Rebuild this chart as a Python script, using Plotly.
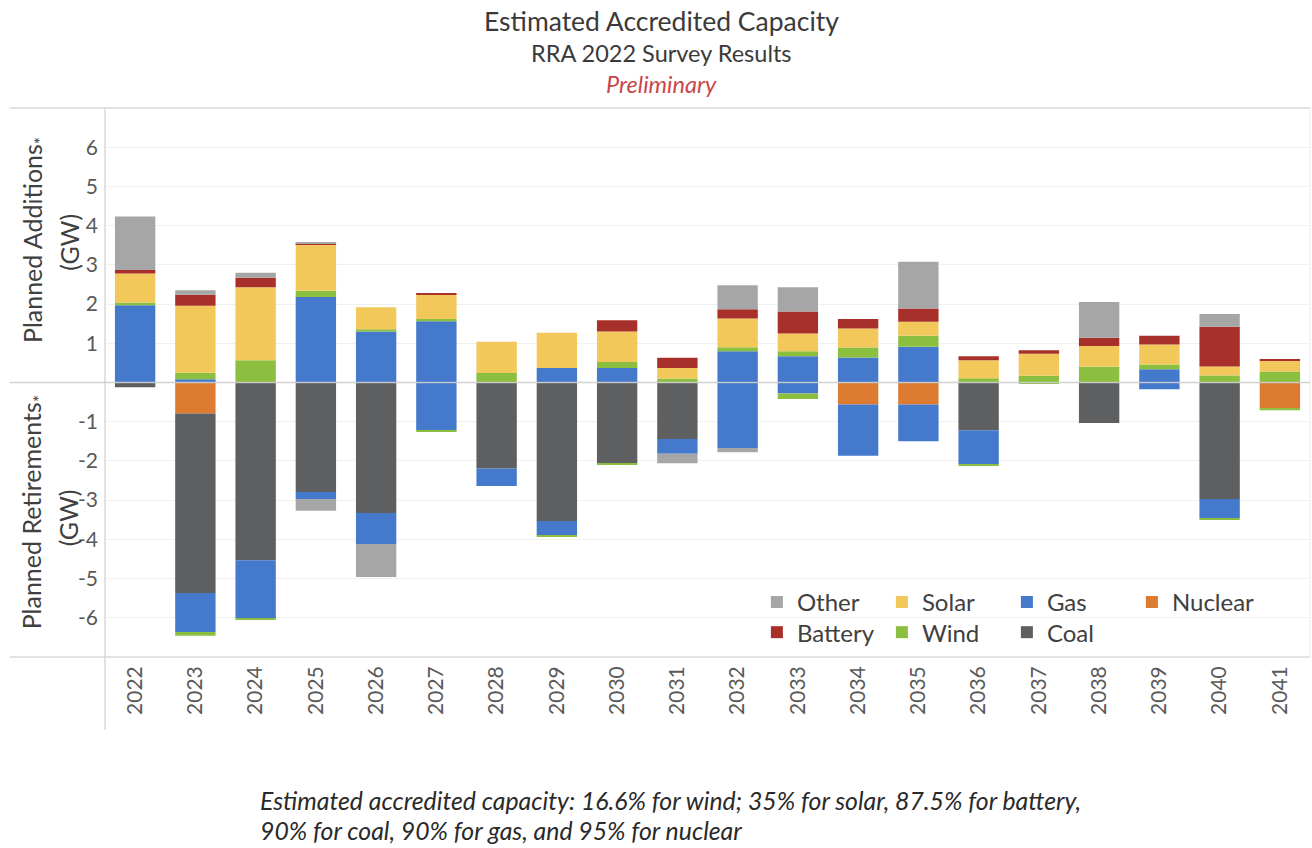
import plotly.graph_objects as go

years = [str(y) for y in range(2022, 2042)]

# planned additions (GW, accredited)
gas_add = [1.97, 0.08, 0, 2.18, 1.30, 1.56, 0, 0.37, 0.37, 0, 0.80, 0.67, 0.64, 0.91, 0, 0, 0, 0.34, 0, 0]
wind_add = [0.07, 0.17, 0.57, 0.16, 0.06, 0.06, 0.24, 0, 0.15, 0.10, 0.10, 0.13, 0.25, 0.28, 0.11, 0.17, 0.40, 0.12, 0.18, 0.28]
solar_add = [0.74, 1.71, 1.86, 1.19, 0.56, 0.62, 0.80, 0.90, 0.78, 0.27, 0.73, 0.45, 0.49, 0.36, 0.46, 0.56, 0.53, 0.51, 0.23, 0.28]
battery_add = [0.09, 0.28, 0.24, 0.02, 0, 0.03, 0, 0, 0.29, 0.26, 0.24, 0.56, 0.24, 0.34, 0.10, 0.09, 0.21, 0.22, 1.01, 0.02]
other_add = [1.36, 0.11, 0.13, 0.02, 0, 0, 0, 0, 0, 0, 0.61, 0.62, 0, 1.19, 0, 0, 0.91, 0, 0.33, 0]

# planned retirements (GW, accredited)
nuclear_ret = [0, -0.79, 0, 0, 0, 0, 0, 0, 0, 0, 0, 0, -0.56, -0.56, 0, 0, 0, 0, 0, -0.66]
coal_ret = [-0.12, -4.58, -4.53, -2.79, -3.33, 0, -2.19, -3.53, -2.06, -1.44, 0, 0, 0, 0, -1.22, 0, -1.03, 0, -2.97, 0]
gas_ret = [0, -0.99, -1.48, -0.18, -0.79, -1.22, -0.45, -0.38, 0, -0.38, -1.67, -0.28, -1.31, -0.94, -0.86, 0, 0, -0.17, -0.49, 0]
wind_ret = [0, -0.10, -0.03, 0, 0, -0.02, 0, -0.03, -0.03, 0, 0, -0.14, 0, 0, -0.03, -0.03, 0, 0, -0.03, -0.05]
other_ret = [0, 0, 0, -0.30, -0.84, 0, 0, 0, 0, -0.24, -0.11, 0, 0, 0, 0, 0, 0, 0, 0, 0]

colors = {
    'Other': '#A6A6A6',
    'Solar': '#F2C85B',
    'Gas': '#4479CC',
    'Nuclear': '#DD7B30',
    'Battery': '#A8302A',
    'Wind': '#8CBF3F',
    'Coal': '#5E5F61',
}
# legend placement: row 1 / row 2, like the original
legend_of = {'Other': 'legend', 'Solar': 'legend', 'Gas': 'legend', 'Nuclear': 'legend',
             'Battery': 'legend2', 'Wind': 'legend2', 'Coal': 'legend2'}
rank = {'Other': 1, 'Solar': 2, 'Gas': 3, 'Nuclear': 4, 'Battery': 1, 'Wind': 2, 'Coal': 3}

FONT = 'Lato, "Open Sans", sans-serif'

fig = go.Figure()


def add_bar(name, values, show):
    fig.add_trace(go.Bar(
        x=years, y=values, name=name,
        marker=dict(color=colors[name], line=dict(width=0)),
        legendgroup=name, showlegend=show,
        legend=legend_of[name], legendrank=rank[name],
    ))


# retirements stack downward from zero
add_bar('Nuclear', nuclear_ret, True)
add_bar('Coal', coal_ret, True)
add_bar('Gas', gas_ret, False)
add_bar('Wind', wind_ret, False)
add_bar('Other', other_ret, False)
# additions stack upward
add_bar('Gas', gas_add, True)
add_bar('Wind', wind_add, True)
add_bar('Solar', solar_add, True)
add_bar('Battery', battery_add, True)
add_bar('Other', other_add, True)

tick_vals = [-6, -5, -4, -3, -2, -1, 1, 2, 3, 4, 5, 6]

legend_font = dict(size=24, color='#404040')
fig.update_layout(
    width=1312, height=848,
    barmode='relative', bargap=0.33,
    paper_bgcolor='white', plot_bgcolor='white',
    font=dict(family=FONT, color='#404040'),
    margin=dict(l=105, r=2, t=108, b=191),
    legend=dict(orientation='h', x=0.541, y=0.0995, xanchor='left', yanchor='middle',
                entrywidth=80, bgcolor='rgba(0,0,0,0)', font=legend_font),
    legend2=dict(orientation='h', x=0.541, y=0.0445, xanchor='left', yanchor='middle',
                 entrywidth=80, bgcolor='rgba(0,0,0,0)', font=legend_font),
)
fig.update_xaxes(type='category', tickangle=-90, showgrid=False, showline=False,
                 tickfont=dict(size=21, color='#595959'), ticks='', ticklabelstandoff=4)
fig.update_yaxes(range=[-7, 7], tickvals=tick_vals, ticktext=[str(v) for v in tick_vals],
                 showgrid=True, gridcolor='#F0F0F0', zeroline=False, showline=False,
                 tickfont=dict(size=21, color='#595959'), ticks='', ticklabelstandoff=6)

line_col = '#D9D9D9'
fig.add_shape(type='line', xref='paper', yref='paper', x0=-0.079, x1=1, y0=1, y1=1,
              line=dict(color=line_col, width=1.5))
fig.add_shape(type='line', xref='paper', yref='paper', x0=-0.079, x1=1, y0=0, y1=0,
              line=dict(color=line_col, width=1.5))
fig.add_shape(type='line', xref='paper', yref='paper', x0=0, x1=0, y0=-0.133, y1=1,
              line=dict(color=line_col, width=1.5))
fig.add_shape(type='line', xref='paper', yref='paper', x0=1, x1=1, y0=0, y1=1,
              line=dict(color='#EBEBEB', width=1))
fig.add_shape(type='line', xref='paper', yref='y', x0=-0.079, x1=1, y0=0, y1=0,
              line=dict(color='rgba(205,205,205,0.9)', width=1.5), layer='above')

# titles
title_kw = dict(xref='paper', yref='paper', x=0.462, xanchor='center', yanchor='middle', showarrow=False)
fig.add_annotation(text='Estimated Accredited Capacity', y=1.159,
                   font=dict(size=26.5, color='#3A3A3A'), **title_kw)
fig.add_annotation(text='RRA 2022 Survey Results', y=1.100,
                   font=dict(size=23.5, color='#3A3A3A'), **title_kw)
fig.add_annotation(text='<i>Preliminary</i>', y=1.043,
                   font=dict(size=23.5, color='#C8474A'), **title_kw)

# y axis titles, one annotation per line
ytitle_kw = dict(xref='paper', yref='paper', xanchor='center', yanchor='middle',
                 showarrow=False, textangle=-90, font=dict(size=25, color='#404040'))
fig.add_annotation(text='Planned Additions<sub>*</sub>', x=-0.0595, y=0.76, **ytitle_kw)
fig.add_annotation(text='(GW)', x=-0.0305, y=0.755, **ytitle_kw)
fig.add_annotation(text='Planned Retirements<sub>*</sub>', x=-0.0595, y=0.264, **ytitle_kw)
fig.add_annotation(text='(GW)', x=-0.0305, y=0.253, **ytitle_kw)

# footnote
note_kw = dict(xref='paper', yref='paper', x=0.127, xanchor='left', yanchor='middle',
               showarrow=False, font=dict(size=24.8, color='#2A2A2A'))
fig.add_annotation(text='<i>Estimated accredited capacity: 16.6% for wind; 35% for solar, 87.5% for battery,</i>',
                   y=-0.261, **note_kw)
fig.add_annotation(text='<i>90% for coal, 90% for gas, and 95% for nuclear</i>',
                   y=-0.316, **note_kw)

fig.write_html('out.html', config={'displayModeBar': False},
               post_script="document.body.style.margin='0';")
